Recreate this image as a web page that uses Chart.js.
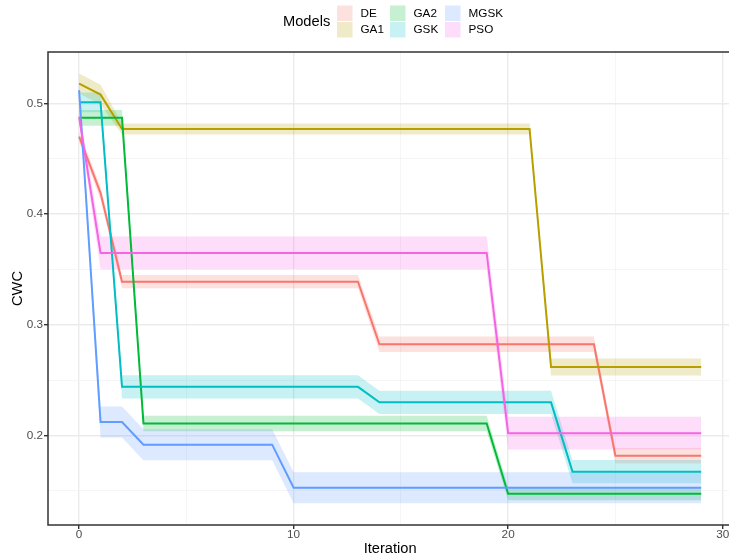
<!DOCTYPE html>
<html>
<head>
<meta charset="utf-8">
<script src="https://cdn.jsdelivr.net/npm/chart.js@4.4.0/dist/chart.umd.min.js"></script>
<style>
  html, body { margin: 0; padding: 0; overflow: hidden; background: #ffffff; }
  canvas { display: block; }
</style>
</head>
<body>
<canvas id="cwc" width="737" height="558"></canvas>
<script>
// Iteration index shared by every model
const iterations = [0,1,2,3,4,5,6,7,8,9,10,11,12,13,14,15,16,17,18,19,20,21,22,23,24,25,26,27,28,29];

// Mean CWC per iteration, one array per model
const deCWC   = [0.470,0.419,0.339,0.339,0.339,0.339,0.339,0.339,0.339,0.339,0.339,0.339,0.339,0.339,0.2825,0.2825,0.2825,0.2825,0.2825,0.2825,0.2825,0.2825,0.2825,0.2825,0.2825,0.1818,0.1818,0.1818,0.1818,0.1818];
const ga1CWC  = [0.518,0.508,0.477,0.477,0.477,0.477,0.477,0.477,0.477,0.477,0.477,0.477,0.477,0.477,0.477,0.477,0.477,0.477,0.477,0.477,0.477,0.477,0.262,0.262,0.262,0.262,0.262,0.262,0.262,0.262];
const ga2CWC  = [0.487,0.487,0.487,0.211,0.211,0.211,0.211,0.211,0.211,0.211,0.211,0.211,0.211,0.211,0.211,0.211,0.211,0.211,0.211,0.211,0.1475,0.1475,0.1475,0.1475,0.1475,0.1475,0.1475,0.1475,0.1475,0.1475];
const gskCWC  = [0.501,0.501,0.244,0.244,0.244,0.244,0.244,0.244,0.244,0.244,0.244,0.244,0.244,0.244,0.230,0.230,0.230,0.230,0.230,0.230,0.230,0.230,0.230,0.1674,0.1674,0.1674,0.1674,0.1674,0.1674,0.1674];
const mgskCWC = [0.512,0.2123,0.2123,0.1918,0.1918,0.1918,0.1918,0.1918,0.1918,0.1918,0.1529,0.1529,0.1529,0.1529,0.1529,0.1529,0.1529,0.1529,0.1529,0.1529,0.1529,0.1529,0.1529,0.1529,0.1529,0.1529,0.1529,0.1529,0.1529,0.1529];
const psoCWC  = [0.488,0.365,0.365,0.365,0.365,0.365,0.365,0.365,0.365,0.365,0.365,0.365,0.365,0.365,0.365,0.365,0.365,0.365,0.365,0.365,0.2021,0.2021,0.2021,0.2021,0.2021,0.2021,0.2021,0.2021,0.2021,0.2021];

// Half-width of the shaded band around each mean
const deSpread   = [0.005,0.006,0.006,0.006,0.006,0.006,0.006,0.006,0.006,0.006,0.006,0.006,0.006,0.006,0.007,0.007,0.007,0.007,0.007,0.007,0.007,0.007,0.007,0.007,0.007,0.007,0.007,0.007,0.007,0.007];
const ga1Spread  = [0.009,0.009,0.005,0.005,0.005,0.005,0.005,0.005,0.005,0.005,0.005,0.005,0.005,0.005,0.005,0.005,0.005,0.005,0.005,0.005,0.005,0.005,0.0077,0.0077,0.0077,0.0077,0.0077,0.0077,0.0077,0.0077];
const ga2Spread  = [0.0072,0.0072,0.0072,0.007,0.007,0.007,0.007,0.007,0.007,0.007,0.007,0.007,0.007,0.007,0.007,0.007,0.007,0.007,0.007,0.007,0.006,0.006,0.006,0.006,0.006,0.006,0.006,0.006,0.006,0.006];
const gskSpread  = [0.009,0.009,0.0105,0.0105,0.0105,0.0105,0.0105,0.0105,0.0105,0.0105,0.0105,0.0105,0.0105,0.0105,0.0105,0.0105,0.0105,0.0105,0.0105,0.0105,0.0105,0.0105,0.0105,0.0105,0.0105,0.0105,0.0105,0.0105,0.0105,0.0105];
const mgskSpread = [0.008,0.014,0.014,0.014,0.014,0.014,0.014,0.014,0.014,0.014,0.014,0.014,0.014,0.014,0.014,0.014,0.014,0.014,0.014,0.014,0.014,0.014,0.014,0.014,0.014,0.014,0.014,0.014,0.014,0.014];
const psoSpread  = [0.006,0.0148,0.0148,0.0148,0.0148,0.0148,0.0148,0.0148,0.0148,0.0148,0.0148,0.0148,0.0148,0.0148,0.0148,0.0148,0.0148,0.0148,0.0148,0.0148,0.0148,0.0148,0.0148,0.0148,0.0148,0.0148,0.0148,0.0148,0.0148,0.0148];

// Axis ticks
const xTicks = [0,5,10,15,20,25,30];
const xLabels = [0,10,20,30];
const yTicks = [0.15,0.2,0.25,0.3,0.35,0.4,0.45,0.5];
const yLabels = [0.2,0.3,0.4,0.5];

const models  = ['DE','GA1','GA2','GSK','MGSK','PSO'];
const colors  = ['#F8766D','#B79F00','#00BA38','#00BFC4','#619CFF','#F564E3'];
const means   = [deCWC, ga1CWC, ga2CWC, gskCWC, mgskCWC, psoCWC];
const spreads = [deSpread, ga1Spread, ga2Spread, gskSpread, mgskSpread, psoSpread];

const FONT = "'Liberation Sans', Arial, sans-serif";
const BAND_ALPHA = 0.22;

function rgba(hex, a) {
  const n = parseInt(hex.slice(1), 16);
  return `rgba(${(n >> 16) & 255},${(n >> 8) & 255},${n & 255},${a})`;
}
const isMajorX = v => xLabels.some(t => Math.abs(t - v) < 1e-9);
const isMajorY = v => yLabels.some(t => Math.abs(t - v) < 1e-9);

// Bands first (upper edge filled down to the lower edge), then mean lines on top
const datasets = [];
models.forEach((name, i) => {
  const m = means[i], s = spreads[i];
  datasets.push({
    label: name + ' upper',
    data: iterations.map((x, k) => ({ x, y: m[k] + s[k] })),
    borderColor: 'rgba(0,0,0,0)', borderWidth: 0, pointRadius: 0,
    fill: '+1', backgroundColor: rgba(colors[i], BAND_ALPHA),
    order: 100 + (5 - i)
  });
  datasets.push({
    label: name + ' lower',
    data: iterations.map((x, k) => ({ x, y: m[k] - s[k] })),
    borderColor: 'rgba(0,0,0,0)', borderWidth: 0, pointRadius: 0,
    fill: false, order: 100 + (5 - i)
  });
  datasets.push({
    label: name,
    data: iterations.map((x, k) => ({ x, y: m[k] })),
    borderColor: colors[i], borderWidth: 2, pointRadius: 0,
    fill: false, tension: 0, order: 5 - i
  });
});

// Panel border and the "Models" key at the top
const panelAndKey = {
  id: 'panelAndKey',
  afterDraw(chart) {
    const { ctx, chartArea: a } = chart;
    ctx.save();
    ctx.strokeStyle = '#333333';
    ctx.lineWidth = 1.5;
    ctx.strokeRect(a.left, a.top, a.right - a.left, a.bottom - a.top);

    ctx.fillStyle = '#000000';
    ctx.textBaseline = 'middle';
    ctx.textAlign = 'left';
    ctx.font = `14.67px ${FONT}`;
    ctx.fillText('Models', 283, 22);

    const colX = [337, 390, 445];
    const rowY = [5.5, 22];
    const key = 15.5;
    ctx.font = `11.73px ${FONT}`;
    models.forEach((name, i) => {
      const col = Math.floor(i / 2), row = i % 2;
      const x = colX[col], y = rowY[row];
      ctx.fillStyle = rgba(colors[i], BAND_ALPHA);
      ctx.fillRect(x, y, key, key);
      ctx.fillStyle = '#000000';
      ctx.fillText(name, x + key + 8, y + key / 2 + 0.5);
    });
    ctx.restore();
  }
};

new Chart(document.getElementById('cwc'), {
  type: 'line',
  data: { datasets },
  options: {
    responsive: false,
    animation: false,
    events: [],
    devicePixelRatio: 1,
    layout: { padding: { top: 52, right: 4.7, left: 0, bottom: 0 } },
    plugins: {
      legend: { display: false },
      tooltip: { enabled: false },
      filler: { drawTime: 'beforeDatasetsDraw' }
    },
    scales: {
      x: {
        type: 'linear',
        min: -1.45,
        max: 30.45,
        afterBuildTicks: s => { s.ticks = xTicks.map(v => ({ value: v })); },
        afterFit: s => { s.height = 33; },
        border: { display: false },
        grid: {
          color: c => isMajorX(c.tick.value) ? '#EBEBEB' : '#F2F2F2',
          lineWidth: c => isMajorX(c.tick.value) ? 1.4 : 0.8,
          tickColor: c => isMajorX(c.tick.value) ? '#333333' : 'rgba(0,0,0,0)',
          tickLength: 4,
          tickWidth: 1.4
        },
        ticks: {
          autoSkip: false, maxRotation: 0, padding: -1.5,
          color: '#4D4D4D',
          font: { family: FONT, size: 11.73 },
          callback: v => isMajorX(v) ? String(v) : ''
        },
        title: {
          display: true, text: 'Iteration', color: '#000000',
          font: { family: FONT, size: 14.67 },
          padding: { top: 0, bottom: 0 }
        }
      },
      y: {
        type: 'linear',
        min: 0.1192,
        max: 0.5465,
        afterBuildTicks: s => { s.ticks = yTicks.map(v => ({ value: v })); },
        afterFit: s => { s.width = 48; },
        border: { display: false },
        grid: {
          color: c => isMajorY(c.tick.value) ? '#EBEBEB' : '#F2F2F2',
          lineWidth: c => isMajorY(c.tick.value) ? 1.4 : 0.8,
          tickColor: c => isMajorY(c.tick.value) ? '#333333' : 'rgba(0,0,0,0)',
          tickLength: 4,
          tickWidth: 1.4
        },
        ticks: {
          autoSkip: false, padding: 1,
          color: '#4D4D4D',
          font: { family: FONT, size: 11.73 },
          callback: v => isMajorY(v) ? v.toFixed(1) : ''
        },
        title: {
          display: true, text: 'CWC', color: '#000000',
          font: { family: FONT, size: 14.67 },
          padding: { top: 9, bottom: 0 }
        }
      }
    }
  },
  plugins: [panelAndKey]
});
</script>
</body>
</html>
